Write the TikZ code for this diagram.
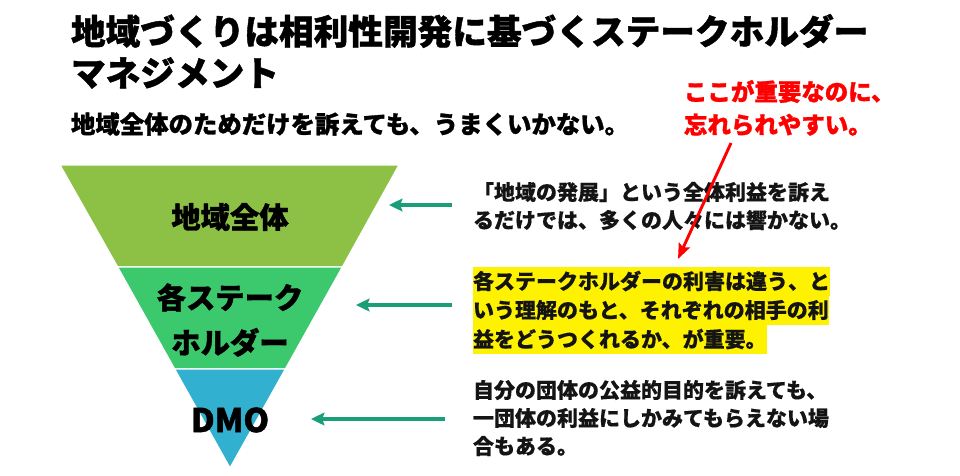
\documentclass[tikz,border=0pt]{standalone}
\usepackage{fontspec}
\setmainfont{Noto Sans CJK JP}
\newfontfamily\jpheavy{Noto Sans CJK JP}[BoldFeatures={FakeBold=1.2}]
\newfontfamily\jpmid{Noto Sans CJK JP}[BoldFeatures={FakeBold=0.5}]
\usetikzlibrary{arrows.meta}
\definecolor{bandA}{RGB}{141,193,70}
\definecolor{bandB}{RGB}{60,200,108}
\definecolor{bandC}{RGB}{50,176,208}
\definecolor{teal}{RGB}{26,158,120}
\definecolor{txt}{RGB}{20,20,20}
\tikzset{
  ttl/.style={anchor=west, font=\jpheavy\bfseries\fontsize{26pt}{31.5pt}\selectfont, text=black},
  subttl/.style={anchor=west, font=\jpheavy\bfseries\fontsize{18.3pt}{22pt}\selectfont, text=black},
  note/.style={anchor=west, align=left, text=red, font=\jpheavy\bfseries\fontsize{17.6pt}{24.75pt}\selectfont},
  band/.style={draw=white, line width=1pt},
  lbl/.style={align=center, text=black, font=\jpheavy\bfseries\fontsize{22pt}{33.75pt}\selectfont},
  body/.style={anchor=west, align=left, text=txt, font=\jpmid\bfseries\fontsize{15.75pt}{21pt}\selectfont},
  hl/.style={body, fill=yellow, minimum height=21.75pt},
  tealarrow/.style={draw=teal, line width=3pt, -{Stealth[length=10pt,width=9.5pt,inset=1.5pt]}},
  redarrow/.style={draw=red, line width=2.2pt, -{Stealth[length=11.5pt,width=9pt,inset=2pt]}}
}
\begin{document}
\begin{tikzpicture}[x=0.75pt,y=-0.75pt, every node/.style={inner sep=0pt, outer sep=0pt}]
\useasboundingbox (0,0) rectangle (960,475);
\fill[white] (0,0) rectangle (960,475);

% titles
\node[ttl] (t1) at (71,31) {地域づくりは相利性開発に基づくステークホルダー};
\node[ttl] (t2) at (71,73) {マネジメント};
\node[subttl] (sub) at (71,124) {地域全体のためだけを訴えても、うまくいかない。};

% funnel
\path[band, fill=bandA] (60,165) -- (399,165) -- (342.4,267) -- (117.6,267) -- cycle;
\path[band, fill=bandB] (117.6,267) -- (342.4,267) -- (285.4,369) -- (174.6,369) -- cycle;
\path[band, fill=bandC] (174.6,369) -- (285.4,369) -- (230,468) -- cycle;

\node[lbl] (L1) at (230,217) {地域全体};
\node[lbl] (L2) at (230,320) {各ステーク\\ホルダー};
\node[lbl, font=\jpheavy\bfseries\fontsize{24.5pt}{30pt}\selectfont] (L3) at (230,420) {DMO};

% right texts
\node[body] (b1) at (473,206) {「地域の発展」という全体利益を訴え\\るだけでは、多くの人々には響かない。};
\node[hl] (b2a) at (473,281) {各ステークホルダーの利害は違う、と};
\node[hl] (b2b) at (473,310) {いう理解のもと、それぞれの相手の利};
\node[hl] (b2c) at (473,339) {益をどうつくれるか、が重要。};
\node[body] (b3) at (473,418) {自分の団体の公益的目的を訴えても、\\一団体の利益にしかみてもらえない場\\合もある。};

% teal arrows
\coordinate (a1s) at (452,205);
\coordinate (a1e) at (389,205);
\coordinate (a2s) at (452,305);
\coordinate (a2e) at (356,305);
\coordinate (a3s) at (445,419);
\coordinate (a3e) at (311,419);
\draw[tealarrow] (a1s) -- (a1e);
\draw[tealarrow] (a2s) -- (a2e);
\draw[tealarrow] (a3s) -- (a3e);

% red note
\node[note] (nt) at (684,108) {ここが重要なのに、\\忘れられやすい。};
\coordinate (rs) at (731,143);
\coordinate (re) at (678,259);
\draw[redarrow] (rs) -- (re);
\end{tikzpicture}
\end{document}
